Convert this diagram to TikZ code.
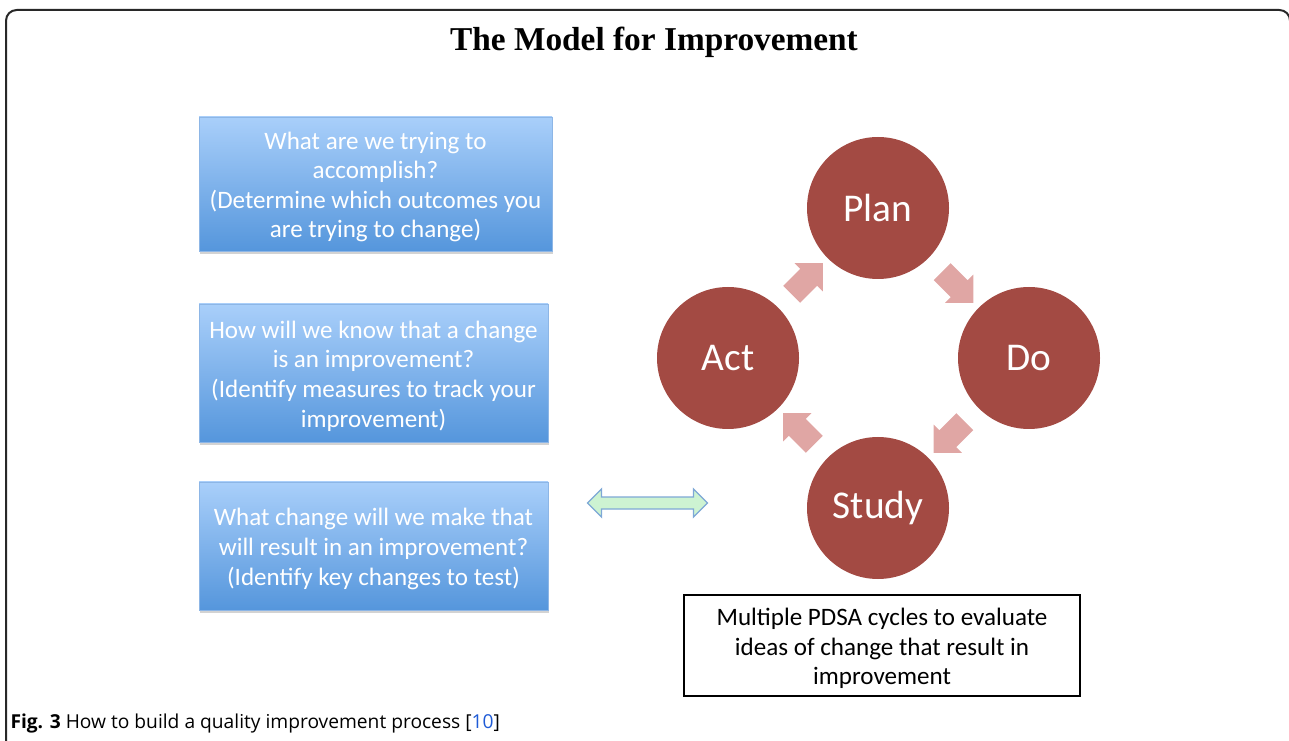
\documentclass[tikz,border=0pt]{standalone}
\usepackage{fontspec}
\setmainfont{Carlito}
\newfontfamily\titlefont{Liberation Serif}
\newfontfamily\capfont{Open Sans}
\usetikzlibrary{shapes.arrows,shadows,calc}

\definecolor{boxtop}{HTML}{A9CFFA}
\definecolor{boxbot}{HTML}{5596DC}
\definecolor{boxline}{HTML}{8DB6E6}
\definecolor{pdsared}{HTML}{A34A43}
\definecolor{pdsapink}{HTML}{E0A6A4}
\definecolor{linkfill}{HTML}{CDF3D2}
\definecolor{linkline}{HTML}{7EA8D6}
\definecolor{refblue}{HTML}{1F5BD6}

% raises the first line so that the block sits a little lower
\newcommand{\topstrut}{\rule{0pt}{17.5pt}}

\tikzset{every picture/.style={line width=0.75pt}}
\tikzset{
  question/.style={draw=boxline, line width=0.6pt, top color=boxtop, bottom color=boxbot,
    text=white, align=center, inner sep=0pt, font=\fontsize{18.8}{22.2}\selectfont,
    drop shadow={shadow xshift=0.6pt, shadow yshift=-2.2pt, opacity=0.35}},
  phase/.style={circle, fill=pdsared, text=white, minimum size=106.5pt, inner sep=0pt,
    font=\fontsize{29.5}{34}\selectfont},
  turn/.style={single arrow, fill=pdsapink, inner sep=8.6pt, minimum height=33pt,
    single arrow head extend=6pt},
  note/.style={draw, line width=1.1pt, align=center, inner sep=0pt,
    font=\fontsize{18.8}{22.2}\selectfont}
}

\begin{document}
\begin{tikzpicture}[x=0.75pt,y=0.75pt,yscale=-1,xscale=1]
\useasboundingbox (0,0) rectangle (1289,741);
%Shape: Frame
\draw [line width=1.5pt, color={rgb, 255:red, 40; green, 40; blue, 40}, rounded corners=8pt]
  (6,745) -- (6,10) -- (1290,10) -- (1290,745);

% Text Node
\node (title) at (654,42) {\titlefont\bfseries\fontsize{25}{28}\selectfont The Model for Improvement};

%Shape: Questions
\node [question, minimum width=264.75pt, minimum height=100.5pt] (aim) at (375.5,184)
  {\topstrut What are we trying to\\accomplish?\\(Determine which outcomes you\\are trying to change)};
\node [question, minimum width=261.75pt, minimum height=103.5pt] (measure) at (373.5,373)
  {\topstrut How will we know that a change\\is an improvement?\\(Identify measures to track your\\improvement)};
\node [question, minimum width=261.75pt, minimum height=96pt] (change) at (373.5,546)
  {\topstrut What change will we make that\\will result in an improvement?\\(Identify key changes to test)};

%Shape: Double Arrow
\node [double arrow, fill=linkfill, draw=linkline, line width=1pt, inner sep=4pt,
  minimum height=90pt, double arrow head extend=6pt] (link) at (647.5,503) {};

%Shape: PDSA cycle
\node [phase] (plan) at (878,208) {Plan};
\node [phase] (do) at (1029,358) {Do};
\node [phase] (study) at (878,508) {Study};
\node [phase] (act) at (728,358) {Act};

\node [turn, rotate=-45] (pd) at ($(plan)!0.5!(do)$) {};
\node [turn, rotate=-135] (ds) at ($(do)!0.5!(study)$) {};
\node [turn, rotate=135] (sa) at ($(study)!0.5!(act)$) {};
\node [turn, rotate=45] (ap) at ($(act)!0.5!(plan)$) {};

% Text Node
\node [note, minimum width=297pt, minimum height=75.75pt] (cycles) at (882,645.5)
  {\topstrut Multiple PDSA cycles to evaluate\\ideas of change that result in\\improvement};

% Text Node
\node [anchor=west, inner sep=0pt] (caption) at (10,724)
  {\capfont\fontsize{14.4}{17}\selectfont\textbf{Fig. 3} How to build a quality improvement process [{\color{refblue}10}]};
\end{tikzpicture}
\end{document}
